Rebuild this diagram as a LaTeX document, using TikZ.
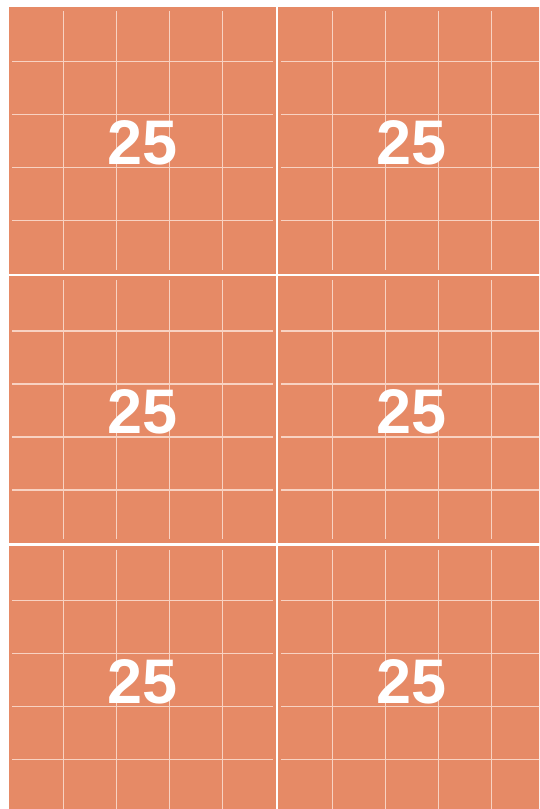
\documentclass[tikz,border=0pt]{standalone}
\usepackage{fontspec}
\setmainfont{Liberation Sans}
\definecolor{tile}{HTML}{E68A66}
\definecolor{gridl}{HTML}{F8D2C2}
\tikzset{
  tilebox/.style={fill=tile},
  gridline/.style={draw=gridl, line width=1.3pt},
  tilelabel/.style={text=white, inner sep=0pt, font=\bfseries\fontsize{63}{63}\selectfont}
}
\begin{document}
\begin{tikzpicture}[x=1pt,y=1pt]
\useasboundingbox (0,0) rectangle (539,809);
\clip (0,0) rectangle (539,809);
\foreach \c in {0,1} {
  \foreach \r in {0,1,2} {
    \pgfmathsetmacro\X{9+269.4*\c}
    \pgfmathsetmacro\Y{809-7-269.5*\r}
    \fill[tilebox] (\X,\Y) rectangle ++(267,-267);
    \foreach \i in {1,...,4} {
      \draw[gridline] (\X+54.2+53*\i-53, \Y-4) -- ++(0,-259);
      \draw[gridline] (\X+3, \Y-54.5-53*\i+53) -- ++(261,0);
    }
    \node[tilelabel] (t\c\r) at (\X+133.5,\Y-135.5) {25};
  }
}
\end{tikzpicture}
\end{document}
